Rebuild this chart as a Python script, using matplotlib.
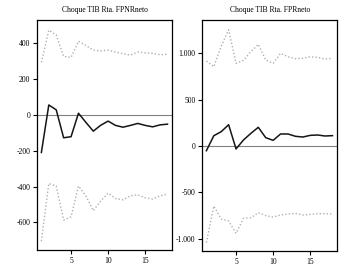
import matplotlib
matplotlib.use("Agg")
import matplotlib.pyplot as plt
from matplotlib.ticker import FuncFormatter

plt.rcParams["font.family"] = ["Liberation Serif", "DejaVu Serif"]

periods = list(range(1, 19))

# Choque TIB -> FPNRneto
fpnr_resp = [-210, 55, 28, -128, -122, 9, -42, -91, -58, -35, -59, -69, -59, -48, -59, -67, -56, -52]
fpnr_upper = [292, 472, 446, 326, 320, 411, 387, 361, 357, 361, 350, 341, 333, 350, 346, 343, 335, 338]
fpnr_lower = [-705, -383, -397, -587, -569, -397, -452, -535, -480, -437, -467, -474, -452, -446, -463, -470, -452, -443]

# Choque TIB -> FPRneto
fpr_resp = [-51, 111, 155, 230, -32, 65, 137, 202, 90, 61, 130, 130, 105, 97, 115, 119, 108, 112]
fpr_upper = [919, 857, 1080, 1257, 894, 925, 1020, 1099, 930, 894, 1002, 965, 944, 948, 965, 958, 940, 948]
fpr_lower = [-1045, -649, -789, -811, -944, -782, -775, -721, -753, -768, -746, -735, -728, -746, -739, -732, -732, -735]

titles = ["Choque TIB Rta. FPNRneto", "Choque TIB Rta. FPRneto"]


def thousands(v, pos):
    s = f"{abs(int(round(v))):,}".replace(",", ".")
    return ("-" if v < 0 else "") + s


fig = plt.figure(figsize=(3.56, 2.67), dpi=100)
ax1 = fig.add_axes([37.3 / 356, 1 - 250 / 267, 135 / 356, 230 / 267])
ax2 = fig.add_axes([202.3 / 356, 1 - 251 / 267, 135 / 356, 231 / 267])

panels = [
    (ax1, fpnr_resp, fpnr_upper, fpnr_lower, (-754, 529), [-600, -400, -200, 0, 200, 400]),
    (ax2, fpr_resp, fpr_upper, fpr_lower, (-1135, 1362), [-1000, -500, 0, 500, 1000]),
]

for (ax, resp, up, lo, ylim, yt), title in zip(panels, titles):
    ax.axhline(0, color="#808080", lw=0.8, zorder=1)
    ax.plot(periods, up, color="#b0b0b0", lw=1.0, ls=(0, (1, 1.5)))
    ax.plot(periods, lo, color="#b0b0b0", lw=1.0, ls=(0, (1, 1.5)))
    ax.plot(periods, resp, color="#151515", lw=1.1)
    ax.set_xlim(0.45, 18.65)
    ax.set_ylim(*ylim)
    ax.set_xticks([5, 10, 15])
    ax.set_yticks(yt)
    ax.yaxis.set_major_formatter(FuncFormatter(thousands))
    ax.tick_params(labelsize=5.5, length=3, width=0.8, pad=2, direction="out")
    for sp in ax.spines.values():
        sp.set_linewidth(0.9)
    ax.set_title(title, fontsize=5.5, pad=6)

fig.savefig("out.png", dpi=100)
